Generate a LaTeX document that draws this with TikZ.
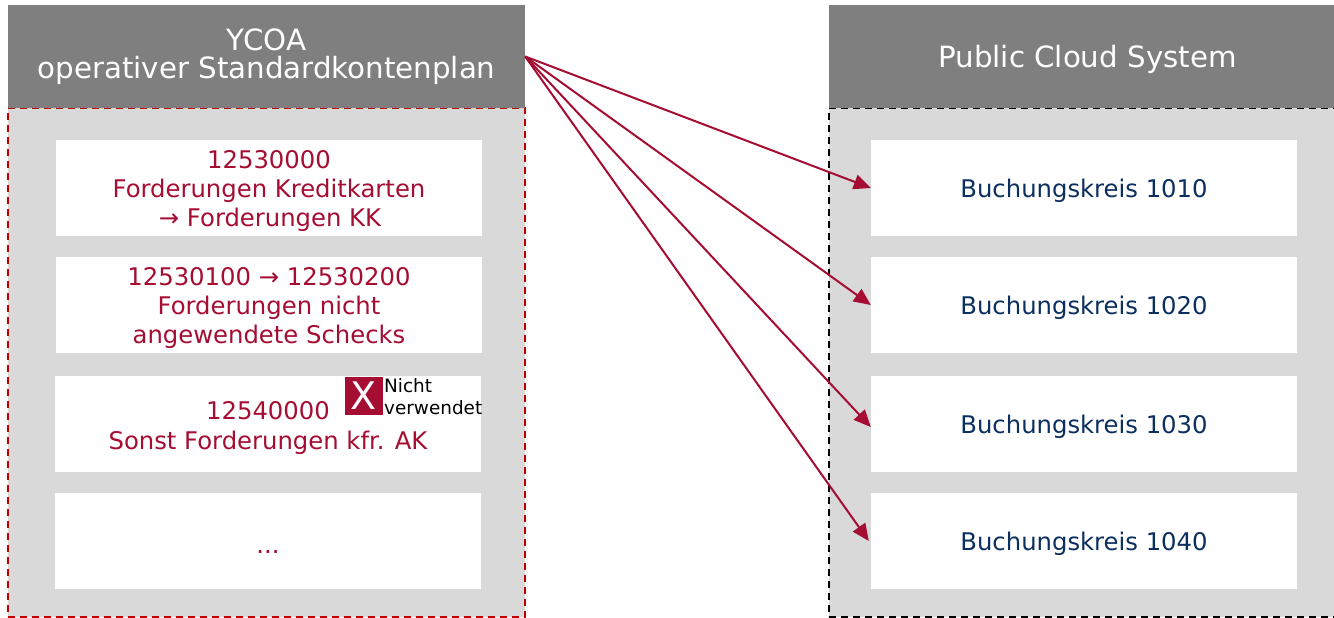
\documentclass[tikz,border=0pt]{standalone}
\usepackage{fontspec}
\setmainfont{DejaVu Sans}
\usetikzlibrary{arrows.meta}
\definecolor{crim}{HTML}{A50D32}
\definecolor{navy}{HTML}{0B2F5F}
\definecolor{hdr}{HTML}{7F7F7F}
\definecolor{pan}{HTML}{D9D9D9}
\definecolor{dashred}{HTML}{C00000}
\tikzset{
  x=1pt,y=-1pt,
  hdrbox/.style={fill=hdr,draw=none,text=white,minimum width=517pt,minimum height=103pt,inner sep=0pt,align=center,font=\fontsize{29.3}{28.5}\selectfont},
  panel/.style={fill=pan,line width=1.8pt,dash pattern=on 7pt off 5pt,minimum width=517pt,minimum height=509pt,inner sep=0pt},
  card/.style={fill=white,draw=none,minimum width=426pt,minimum height=96pt,inner sep=0pt,align=center,font=\fontsize{24.3}{29.3}\selectfont},
  lefttext/.style={card,text=crim},
  righttext/.style={card,text=navy},
  flow/.style={draw=crim,line width=2pt,-{Triangle[length=17pt,width=15pt]}},
}
\begin{document}
\begin{tikzpicture}
\useasboundingbox (0,0) rectangle (1334,618);
\clip (0,0) rectangle (1334,618);
\node[panel,draw=dashred] (lp) at (266.5,362.5) {};
\node[panel,draw=black] (rp) at (1087.5,362.5) {};
\node[hdrbox] (lh) at (266.5,56.5) {YCOA\\operativer Standardkontenplan};
\node[hdrbox] (rh) at (1087.5,56.5) {\rule{0pt}{29pt}Public Cloud System};
\node[lefttext] (a1) at (269,188) {\rule{0pt}{24pt}12530000\\Forderungen Kreditkarten\\\hspace*{2pt}→ Forderungen KK};
\node[lefttext] (a2) at (269,305) {\rule{0pt}{24pt}12530100 → 12530200\\Forderungen nicht\\angewendete Schecks};
\node[lefttext] (a3) at (268,424) {\rule{0pt}{26pt}12540000\\Sonst Forderungen kfr. AK};
\node[lefttext] (a4) at (268,541) {\rule{0pt}{25pt}...};
\node[righttext] (b1) at (1084,188) {\rule{0pt}{25pt}Buchungskreis 1010};
\node[righttext] (b2) at (1084,305) {\rule{0pt}{25pt}Buchungskreis 1020};
\node[righttext] (b3) at (1084,424) {\rule{0pt}{25pt}Buchungskreis 1030};
\node[righttext] (b4) at (1084,541) {\rule{0pt}{25pt}Buchungskreis 1040};
\node[fill=crim,text=white,minimum size=38pt,inner sep=0pt,font=\fontsize{38}{38}\selectfont] (x) at (364,396) {X};
\node[anchor=north west,inner sep=0pt,align=left,text=black,font=\fontsize{18.4}{22.5}\selectfont] (nv) at (384,378) {Nicht\\verwendet};
\coordinate (src) at (lh.east);
\draw[flow] (src) -- (b1.west);
\draw[flow] (src) -- (b2.west);
\draw[flow] (src) -- ([yshift=-3pt]b3.west);
\draw[flow] (src) -- ([xshift=-2pt]b4.west);
\end{tikzpicture}
\end{document}
